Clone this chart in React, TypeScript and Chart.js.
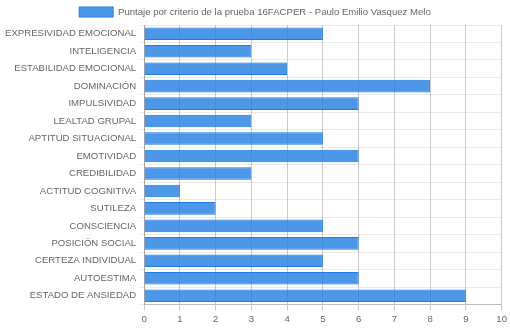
import React, { useEffect, useRef } from "react";
import { Chart, registerables } from "chart.js";

Chart.register(...registerables);

const categories = [
  "EXPRESIVIDAD EMOCIONAL",
  "INTELIGENCIA",
  "ESTABILIDAD EMOCIONAL",
  "DOMINACIÓN",
  "IMPULSIVIDAD",
  "LEALTAD GRUPAL",
  "APTITUD SITUACIONAL",
  "EMOTIVIDAD",
  "CREDIBILIDAD",
  "ACTITUD COGNITIVA",
  "SUTILEZA",
  "CONSCIENCIA",
  "POSICIÓN SOCIAL",
  "CERTEZA INDIVIDUAL",
  "AUTOESTIMA",
  "ESTADO DE ANSIEDAD",
];
const scores = [5, 3, 4, 8, 6, 3, 5, 6, 3, 1, 2, 5, 6, 5, 6, 9];
const seriesLabel = "Puntaje por criterio de la prueba 16FACPER - Paulo Emilio Vasquez Melo";
const xMin = 0;
const xMax = 10;

const legendShift = {
  id: "legendShift",
  afterLayout(chart: any) {
    const lg = chart.legend;
    if (lg) {
      lg.top += 2;
      lg.bottom += 2;
    }
  },
};

export default function App() {
  const ref = useRef<HTMLCanvasElement>(null);
  useEffect(() => {
    document.body.style.margin = "0";
    const font = { family: "'Liberation Sans', Arial, sans-serif", size: 9.6 };
    const chart = new Chart(ref.current!, {
      type: "bar",
      data: {
        labels: categories,
        datasets: [
          {
            label: seriesLabel,
            data: scores,
            backgroundColor: "rgba(33,125,228,0.8)",
            borderColor: "rgba(33,125,228,1)",
            borderWidth: 1,
          },
        ],
      },
      options: {
        indexAxis: "y",
        animation: false,
        responsive: false,
        maintainAspectRatio: false,
        layout: { padding: { left: 2, right: 2, top: 2, bottom: 0 } },
        plugins: {
          legend: {
            position: "top",
            labels: {
              boxWidth: 34,
              boxHeight: 10,
              color: "#666",
              font,
              padding: 3,
            },
          },
          tooltip: { enabled: false },
        },
        scales: {
          x: {
            min: xMin,
            max: xMax,
            ticks: { stepSize: 1, color: "#666", font },
            grid: { color: "rgba(0,0,0,0.2)", tickLength: 6 },
            border: { color: "rgba(0,0,0,0.2)" },
          },
          y: {
            ticks: { color: "#666", font, autoSkip: false },
            grid: { color: "rgba(0,0,0,0.08)", tickLength: 5 },
            border: { color: "rgba(0,0,0,0.2)" },
          },
        },
      },
      plugins: [legendShift],
    });
    return () => chart.destroy();
  }, []);
  return (
    <div style={{ width: 510, height: 328 }}>
      <canvas ref={ref} width={510} height={328} style={{ display: "block" }} />
    </div>
  );
}
